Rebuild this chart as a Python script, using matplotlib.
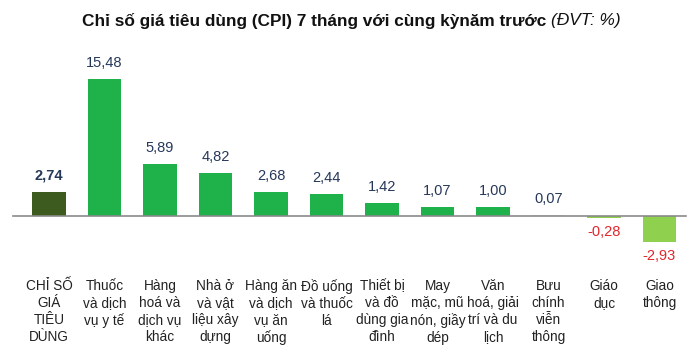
import matplotlib
matplotlib.use("Agg")
import matplotlib.pyplot as plt

plt.rcParams["font.family"] = ["Liberation Sans", "DejaVu Sans"]

categories = [
    "CHỈ SỐ\nGIÁ\nTIÊU\nDÙNG",
    "Thuốc\nvà dịch\nvụ y tế",
    "Hàng\nhoá và\ndịch vụ\nkhác",
    "Nhà ở\nvà vật\nliệu xây\ndựng",
    "Hàng ăn\nvà dịch\nvụ ăn\nuống",
    "Đồ uống\nvà thuốc\nlá",
    "Thiết bị\nvà đồ\ndùng gia\nđình",
    "May\nmặc, mũ\nnón, giầy\ndép",
    "Văn\nhoá, giải\ntrí và du\nlịch",
    "Bưu\nchính\nviễn\nthông",
    "Giáo\ndục",
    "Giao\nthông",
]
values = [2.74, 15.48, 5.89, 4.82, 2.68, 2.44, 1.42, 1.07, 1.00, 0.07, -0.28, -2.93]
value_labels = ["2,74", "15,48", "5,89", "4,82", "2,68", "2,44", "1,42", "1,07", "1,00", "0,07", "-0,28", "-2,93"]

DARK = "#3d5a1f"
GREEN = "#1fb24a"
LIGHT = "#8fd14f"
FAINT = "#e4e8e2"
NAVY = "#26385a"
RED = "#e0262b"

colors = []
for i, v in enumerate(values):
    if i == 0:
        colors.append(DARK)
    elif v < 0:
        colors.append(LIGHT)
    elif v < 0.5:
        colors.append(FAINT)
    else:
        colors.append(GREEN)

fig = plt.figure(figsize=(6.99, 3.55), dpi=100)
ax = fig.add_axes([0, 0, 1, 1])
ax.axis("off")

# px mapping: bar 0 centre x=49, step 55.5 px; baseline y=216 px, 8.85 px per unit
step, x0 = 55.5, 49
ax.set_xlim(-x0 / step, (699 - x0) / step)
ppu = 8.85
ax.set_ylim(-(355 - 216) / ppu, 216 / ppu)

xs = list(range(len(values)))
ax.bar(xs, values, width=0.6, color=colors, zorder=2)
ax.plot([-36 / step, (686 - x0) / step], [0, 0], color="#8a8a8a", lw=1.2, zorder=3)

for x, v, lab in zip(xs, values, value_labels):
    if v >= 0:
        ax.text(x, v + 9 / ppu, lab, ha="center", va="bottom", fontsize=10.5,
                color=NAVY, fontweight="bold" if x == 0 else "normal")
    else:
        ax.text(x, v - 7 / ppu, lab, ha="center", va="top", fontsize=10.5, color=RED)

for x, c in zip(xs, categories):
    ax.text(x, -63 / ppu, c, ha="center", va="top", fontsize=9.8,
            color="#222222", linespacing=1.28)

# title: bold part + italic unit, laid out left to right from x=82 px
t1 = fig.text(82 / 699, 1 - 21 / 355, "Chỉ số giá tiêu dùng (CPI) 7 tháng với cùng kỳnăm trước ",
              ha="left", va="center", fontsize=12.4, fontweight="bold", color="#111111")
t2 = fig.text(0.0, 1 - 21 / 355, "(ĐVT: %)", ha="left", va="center", fontsize=12.4,
              style="italic", color="#111111")
fig.canvas.draw()
r = t1.get_window_extent()
t2.set_x(r.x1 / fig.bbox.width)

fig.savefig("out.png", dpi=100, facecolor="white")
